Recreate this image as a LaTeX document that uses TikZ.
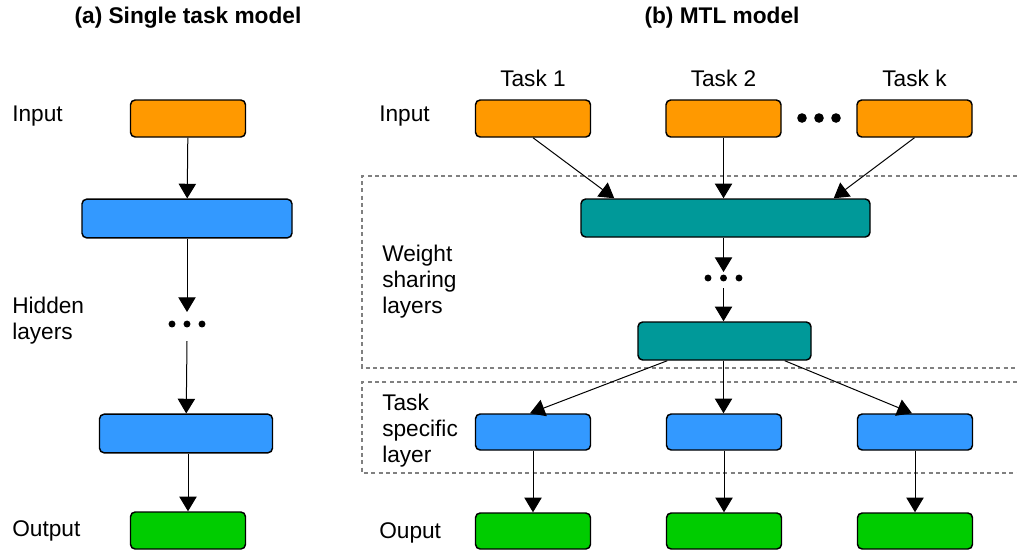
\documentclass[tikz,border=0pt]{standalone}
\usepackage{fontspec}
\setmainfont{Liberation Sans}
\usetikzlibrary{arrows.meta,calc}
\definecolor{inorange}{HTML}{FF9900}
\definecolor{hidblue}{HTML}{3399FF}
\definecolor{shteal}{HTML}{009999}
\definecolor{outgreen}{HTML}{00CC00}
\begin{document}
\begin{tikzpicture}[x=0.75pt, y=-0.75pt,
    box/.style={draw, rounded corners=3.5pt, line width=1.1pt, inner sep=0pt,
        minimum width=86.25pt, minimum height=27.75pt},
    wide/.style={minimum width=#1, minimum height=29pt},
    lbl/.style={anchor=west, align=left, inner sep=0pt, font=\fontsize{17}{19.5}\selectfont},
    ttl/.style={inner sep=0pt, font=\fontsize{17}{20}\selectfont\bfseries},
    conn/.style={-{Triangle[width=13pt,length=11pt]}, line width=0.75pt, black},
    region/.style={line width=1.1pt, gray, dash pattern=on 3pt off 2.5pt}]
    \useasboundingbox (0,0) rectangle (1017,551);

    % (a) single task model
    \node[ttl] (ta) at (188,18) {(a) Single task model};
    \node[lbl] (lin) at (12,116) {Input};
    \node[lbl] (lhid) at (12,321) {Hidden\\layers};
    \node[lbl] (lout) at (12,531) {Output};
    \node[box, fill=inorange] (ina) at (188,118.5) {};
    \node[box, fill=hidblue, wide=157.5pt] (ha1) at (187,218.5) {};
    \node[box, fill=hidblue, wide=129.75pt] (ha2) at (186,433.5) {};
    \node[box, fill=outgreen] (outa) at (188,530.5) {};
    \coordinate (da1) at (172,324); \coordinate (da2) at (187,324);
    \coordinate (da3) at (202,324);
    \coordinate (daN) at (187,312); \coordinate (daS) at (187,341);
    \foreach \p in {da1,da2,da3} \fill (\p) circle (2.6pt);
    \draw[conn] (ina) -- (ha1);
    \draw[conn] (ha1) -- (daN);
    \draw[conn] (daS) -- (ha2);
    \draw[conn] (ha2.south -| outa) -- (outa);

    % (b) MTL model
    \node[ttl] (tb) at (722,18) {(b) MTL model};
    \draw[region] (1017,176) -- (362,176) -- (362,368) -- (1017,368);
    \draw[region] (1017,382) -- (362,382) -- (362,473) -- (1017,473);
    \node[lbl] (rin) at (379,116) {Input};
    \node[lbl] (rws) at (382,282) {Weight\\sharing\\layers};
    \node[lbl] (rts) at (382,431) {Task\\specific\\layer};
    \node[lbl] (rout) at (379,533) {Ouput};
    \foreach \n/\x/\t in {1/533/Task 1, 2/723.5/Task 2, k/914.5/Task k} {
        \node[lbl, anchor=center] (task\n) at (\x,78) {\t};
        \node[box, fill=inorange] (in\n) at (\x,118.5) {};
    }
    \foreach \n/\x in {1/533, 2/724, k/915} {
        \node[box, fill=hidblue, minimum height=27pt] (ts\n) at (\x,432) {};
        \node[box, fill=outgreen, minimum height=27pt] (out\n) at (\x,531) {};
        \draw[conn] (ts\n.south -| out\n) -- (out\n);
    }
    \coordinate (di1) at (802,118); \coordinate (di2) at (819,118);
    \coordinate (di3) at (836,118);
    \foreach \p in {di1,di2,di3} \fill (\p) circle (3.6pt);
    \node[box, fill=shteal, wide=216.75pt, minimum height=28.5pt] (sh1) at (725.5,218) {};
    \node[box, fill=shteal, wide=129.75pt, minimum height=28.5pt] (sh2) at (724.5,341) {};
    \coordinate (ds1) at (708,278); \coordinate (ds2) at (723.5,278);
    \coordinate (ds3) at (739,278);
    \coordinate (dsN) at (723.5,272); \coordinate (dsS) at (723.5,288);
    \foreach \p in {ds1,ds2,ds3} \fill (\p) circle (2.6pt);
    % inputs to shared layer
    \draw[conn] (in1.south) -- ($(sh1.north west)+(34,0)$);
    \draw[conn] (in2.south) -- (in2.south |- sh1.north);
    \draw[conn] (ink.south) -- ($(sh1.north east)+(-37,0)$);
    \draw[conn] (sh1.south -| dsN) -- (dsN);
    \draw[conn] (dsS) -- (dsS |- sh2.north);
    % shared layer to task specific layers
    \draw[conn] ($(sh2.south west)+(30,0)$) -- ($(ts1.north)+(-3,0)$);
    \draw[conn] (sh2.south -| dsS) -- (dsS |- ts2.north);
    \draw[conn] ($(sh2.south east)+(-27,0)$) -- ($(tsk.north)+(-3,0)$);
\end{tikzpicture}
\end{document}
